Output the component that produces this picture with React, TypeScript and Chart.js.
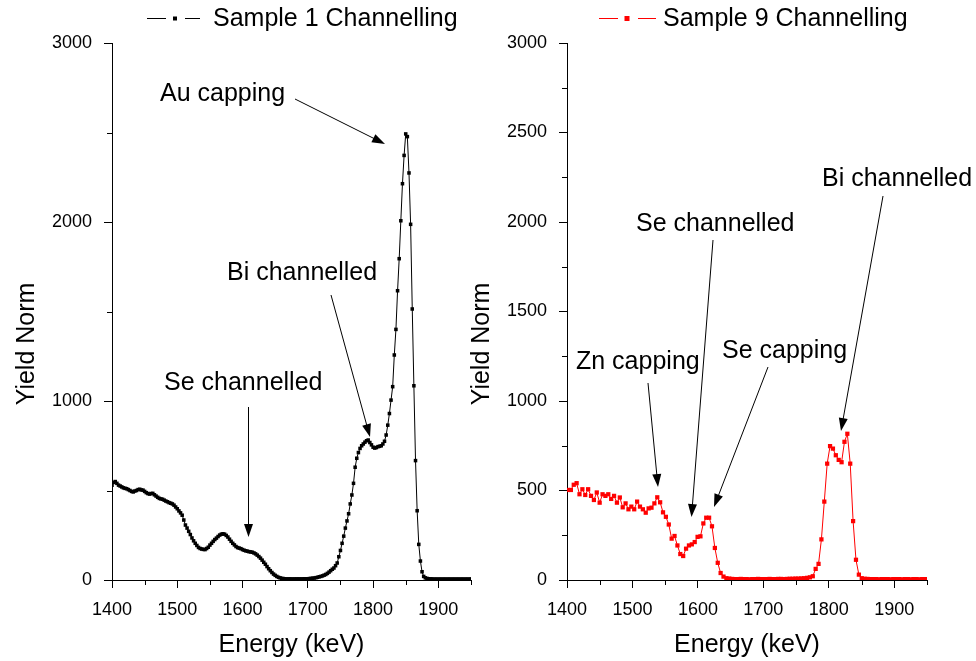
import React, { useEffect, useRef } from 'react';
import { Chart, registerables } from 'chart.js';

Chart.register(...registerables);
Chart.defaults.font.family = '"Liberation Sans", Arial, sans-serif';

// ---------- data ----------
const energyMin = 1400;
const energyMax = 1950;
const yieldMin = 0;
const yieldMax = 3000;

// Sample 1: channels every 2.5 keV starting at 1400 keV
const sample1StartKeV = 1400;
const sample1StepKeV = 2.5;
const sample1Yield = [
  530, 545, 550, 540, 530, 525, 520, 515, 512, 510,
  505, 500, 495, 492, 497, 500, 505, 507, 503, 502,
  495, 488, 483, 480, 483, 484, 476, 469, 462, 456,
  453, 451, 446, 441, 437, 432, 429, 425, 418, 408,
  398, 386, 375, 362, 335, 307, 290, 272, 254, 235,
  219, 205, 193, 182, 176, 173, 171, 170, 176, 183,
  195, 205, 216, 226, 234, 243, 251, 256, 258, 256,
  249, 240, 228, 216, 205, 196, 187, 181, 178, 175,
  170, 166, 163, 161, 158, 157, 155, 151, 146, 139,
  131, 122, 111, 99, 88, 75, 63, 52, 42, 33,
  26, 20, 15, 12, 9, 8, 7, 6, 6, 6,
  6, 5, 6, 6, 6, 6, 6, 6, 7, 7,
  7, 8, 9, 10, 11, 13, 15, 18, 20, 23,
  27, 31, 37, 44, 52, 60, 67, 80, 95, 130,
  165, 205, 245, 290, 330, 370, 425, 475, 540, 630,
  680, 712, 735, 750, 760, 770, 778, 782, 768, 755,
  742, 737, 740, 745, 747, 750, 760, 775, 810, 865,
  930, 1005, 1080, 1257, 1400, 1616, 1795, 2007, 2214, 2372,
  2492, 2477, 2274, 1987, 1514, 1085, 667, 387, 199, 106,
  46, 20, 12, 9, 7, 6, 6, 5, 5, 5,
  5, 5, 5, 5, 5, 5, 5, 5, 5, 5,
  5, 5, 5, 5, 5, 5, 5, 5, 5, 5,
  5,
];

// Sample 9: channels every 4.4 keV starting at 1401.5 keV
const sample9StartKeV = 1401.5;
const sample9StepKeV = 4.4;
const sample9Yield = [
  503, 503, 532, 541, 479, 507, 475, 507, 470, 447,
  489, 432, 479, 470, 479, 453, 470, 432, 461, 406,
  428, 395, 410, 395, 438, 410, 395, 376, 400, 404,
  428, 462, 434, 378, 353, 310, 231, 246, 193, 145,
  134, 175, 193, 199, 212, 241, 244, 316, 348, 348,
  300, 179, 96, 39, 19, 10, 8, 6, 5, 5,
  6, 5, 5, 4, 5, 5, 6, 5, 5, 5,
  6, 5, 5, 6, 6, 5, 6, 7, 7, 8,
  8, 9, 10, 12, 15, 21, 62, 90, 227, 438,
  650, 748, 734, 697, 671, 658, 772, 817, 650, 329,
  113, 30, 10, 7, 6, 5, 5, 5, 4, 5,
  5, 5, 4, 5, 5, 5, 4, 5, 5, 4,
  5, 5, 4, 5, 5,
];

const xMajorStep = 100;
const xMinorTicks = [1450, 1550, 1650, 1750, 1850, 1950];
const leftYMajorStep = 1000;
const leftYMinorTicks = [500, 1500, 2500];
const rightYMajorStep = 500;
const rightYMinorTicks = [250, 750, 1250, 1750, 2250, 2750];

const xTitle = 'Energy (keV)';
const yTitle = 'Yield Norm';
const sample1Label = 'Sample 1 Channelling';
const sample9Label = 'Sample 9 Channelling';

type Annot = { text: string; tx: number; ty: number; from: [number, number]; to: [number, number] };

const sample1Notes: Annot[] = [
  { text: 'Au capping', tx: 160, ty: 101, from: [295, 99], to: [385, 144] },
  { text: 'Bi channelled', tx: 227, ty: 280, from: [331, 295], to: [370, 437] },
  { text: 'Se channelled', tx: 164, ty: 390, from: [248.5, 407], to: [248.5, 537] },
];
const sample9Notes: Annot[] = [
  { text: 'Zn capping', tx: 576, ty: 369, from: [648, 383], to: [658, 487] },
  { text: 'Se channelled', tx: 636, ty: 231, from: [713, 240], to: [691.5, 517] },
  { text: 'Se capping', tx: 722, ty: 358, from: [768, 367], to: [714, 507] },
  { text: 'Bi channelled', tx: 822, ty: 186, from: [883, 196], to: [841, 431] },
];

type Spec = {
  left: number;
  width: number;
  padRight: number;
  yAxisWidth: number;
  start: number;
  step: number;
  values: number[];
  color: string;
  pointRadius: number;
  yStep: number;
  yMinor: number[];
  label: string;
  legend: { seg1: [number, number]; marker: number; markerSize: number; seg2: [number, number]; textX: number };
  notes: Annot[];
  yTitleX: number;
  yTitleY: number;
};

const FONT = '"Liberation Sans", Arial, sans-serif';

function drawArrow(ctx: CanvasRenderingContext2D, x1: number, y1: number, x2: number, y2: number) {
  const ang = Math.atan2(y2 - y1, x2 - x1);
  const headLen = 13;
  const headW = 4.5;
  const bx = x2 - headLen * Math.cos(ang);
  const by = y2 - headLen * Math.sin(ang);
  ctx.beginPath();
  ctx.moveTo(x1, y1);
  ctx.lineTo(bx + 2 * Math.cos(ang), by + 2 * Math.sin(ang));
  ctx.stroke();
  ctx.beginPath();
  ctx.moveTo(x2, y2);
  ctx.lineTo(bx + headW * Math.sin(ang), by - headW * Math.cos(ang));
  ctx.lineTo(bx - headW * Math.sin(ang), by + headW * Math.cos(ang));
  ctx.closePath();
  ctx.fill();
}

function Panel({ spec }: { spec: Spec }) {
  const ref = useRef<HTMLCanvasElement>(null);
  useEffect(() => {
    const points = spec.values.map((v, i) => ({ x: spec.start + i * spec.step, y: v }));
    const off = spec.left;
    const decor = {
      id: 'decor',
      afterDraw(chart: any) {
        const ctx: CanvasRenderingContext2D = chart.ctx;
        const xs = chart.scales.x;
        const ys = chart.scales.y;
        const area = chart.chartArea;
        ctx.save();
        ctx.strokeStyle = '#000';
        ctx.fillStyle = '#000';
        ctx.lineWidth = 1;
        // minor ticks
        ctx.beginPath();
        xMinorTicks.forEach((v) => {
          const px = Math.round(xs.getPixelForValue(v)) + 0.5;
          ctx.moveTo(px, area.bottom);
          ctx.lineTo(px, area.bottom + 5);
        });
        spec.yMinor.forEach((v) => {
          const py = Math.round(ys.getPixelForValue(v)) + 0.5;
          ctx.moveTo(area.left, py);
          ctx.lineTo(area.left - 5, py);
        });
        ctx.stroke();
        // y title
        ctx.save();
        ctx.translate(spec.yTitleX - off, spec.yTitleY);
        ctx.rotate(-Math.PI / 2);
        ctx.font = `25px ${FONT}`;
        ctx.textAlign = 'center';
        ctx.textBaseline = 'middle';
        ctx.fillText(yTitle, 0, 0);
        ctx.restore();
        // legend
        const lg = spec.legend;
        ctx.strokeStyle = spec.color;
        ctx.fillStyle = spec.color;
        ctx.beginPath();
        ctx.moveTo(lg.seg1[0] - off, 18.5);
        ctx.lineTo(lg.seg1[1] - off, 18.5);
        ctx.moveTo(lg.seg2[0] - off, 18.5);
        ctx.lineTo(lg.seg2[1] - off, 18.5);
        ctx.stroke();
        ctx.fillRect(lg.marker - off - lg.markerSize / 2, 18.5 - lg.markerSize / 2, lg.markerSize, lg.markerSize);
        ctx.fillStyle = '#000';
        ctx.font = `25px ${FONT}`;
        ctx.textAlign = 'left';
        ctx.textBaseline = 'alphabetic';
        ctx.fillText(spec.label, lg.textX - off, 26);
        // annotations
        ctx.strokeStyle = '#000';
        ctx.fillStyle = '#000';
        spec.notes.forEach((n) => {
          ctx.fillText(n.text, n.tx - off, n.ty);
          drawArrow(ctx, n.from[0] - off, n.from[1], n.to[0] - off, n.to[1]);
        });
        ctx.restore();
      },
    };
    const chart = new Chart(ref.current!, {
      type: 'line',
      data: {
        datasets: [
          {
            label: spec.label,
            data: points,
            borderColor: spec.color,
            backgroundColor: spec.color,
            borderWidth: 1,
            pointStyle: 'rect',
            pointRadius: spec.pointRadius,
            pointBorderWidth: 0,
            pointBackgroundColor: spec.color,
            tension: 0,
          },
        ],
      },
      options: {
        responsive: false,
        animation: false,
        devicePixelRatio: 1,
        layout: { padding: { left: 0, right: spec.padRight, top: 43, bottom: 0 } },
        plugins: { legend: { display: false }, tooltip: { enabled: false } },
        scales: {
          x: {
            type: 'linear',
            min: energyMin,
            max: energyMax,
            ticks: {
              stepSize: xMajorStep,
              includeBounds: false,
              color: '#000',
              font: { size: 18 },
              padding: 11,
              maxRotation: 0,
              autoSkip: false,
              callback: (v: any) => String(v),
            },
            grid: { display: true, drawOnChartArea: false, drawTicks: true, tickLength: 8, color: '#000', lineWidth: 1 },
            border: { display: true, color: '#000', width: 1 },
            title: { display: true, text: xTitle, color: '#000', font: { size: 25 }, padding: { top: 0, bottom: 1 } },
            afterFit: (s: any) => {
              s.height = 81;
            },
          },
          y: {
            type: 'linear',
            min: yieldMin,
            max: yieldMax,
            ticks: {
              stepSize: spec.yStep,
              color: '#000',
              font: { size: 18 },
              padding: 12,
              autoSkip: false,
              callback: (v: any) => String(v),
            },
            grid: { display: true, drawOnChartArea: false, drawTicks: true, tickLength: 8, color: '#000', lineWidth: 1 },
            border: { display: true, color: '#000', width: 1 },
            afterFit: (s: any) => {
              s.width = spec.yAxisWidth;
            },
          },
        },
      } as any,
      plugins: [decor],
    });
    return () => chart.destroy();
  }, [spec]);
  return (
    <canvas
      ref={ref}
      width={spec.width}
      height={661}
      style={{ position: 'absolute', left: spec.left, top: 0, width: spec.width, height: 661 }}
    />
  );
}

const leftSpec: Spec = {
  left: 0,
  width: 480,
  padRight: 9,
  yAxisWidth: 112,
  start: sample1StartKeV,
  step: sample1StepKeV,
  values: sample1Yield,
  color: '#000000',
  pointRadius: 2.5,
  yStep: leftYMajorStep,
  yMinor: leftYMinorTicks,
  label: sample1Label,
  legend: { seg1: [147, 166], marker: 175, markerSize: 4, seg2: [185, 200], textX: 213 },
  notes: sample1Notes,
  yTitleX: 27,
  yTitleY: 344,
};

const rightSpec: Spec = {
  left: 460,
  width: 516,
  padRight: 49,
  yAxisWidth: 107,
  start: sample9StartKeV,
  step: sample9StepKeV,
  values: sample9Yield,
  color: '#ff0000',
  pointRadius: 3,
  yStep: rightYMajorStep,
  yMinor: rightYMinorTicks,
  label: sample9Label,
  legend: { seg1: [599, 618], marker: 627, markerSize: 5, seg2: [638, 656], textX: 663 },
  notes: sample9Notes,
  yTitleX: 482,
  yTitleY: 344,
};

export default function App() {
  return (
    <div style={{ position: 'absolute', left: 0, top: 0, width: 976, height: 661, background: '#fff', overflow: 'hidden' }}>
      <Panel spec={leftSpec} />
      <Panel spec={rightSpec} />
    </div>
  );
}
